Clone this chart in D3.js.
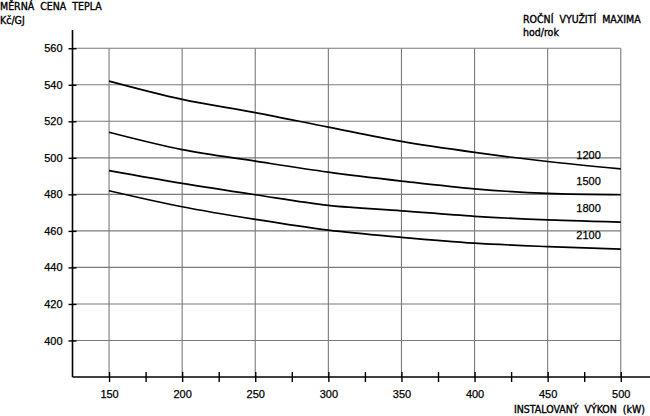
<!DOCTYPE html>
<html>
<head>
<meta charset="utf-8">
<script src="https://cdn.jsdelivr.net/npm/d3@7"></script>
<style>
  body { margin: 0; background: #fff; }
  text { font-family: "Liberation Sans", Arial, sans-serif; fill: #000; stroke: #000; stroke-width: 0.25px; }
  .cad { font-family: "Liberation Sans Narrow", "DejaVu Sans Condensed", sans-serif; font-size: 10.5px; word-spacing: 3px; stroke-width: 0.35px; }
</style>
</head>
<body>
<div id="chart"></div>
<script>
// instalovany vykon (kW)
const vykon = [150, 200, 250, 300, 350, 400, 450, 500];
// rocni vyuziti maxima (hod/rok)
const vyuziti = ["1200", "1500", "1800", "2100"];
// merna cena tepla (Kc/GJ) pro kazdou krivku
const cena1200 = [542, 532, 524.8, 516.8, 509, 503, 498, 494];
const cena1500 = [514, 504.5, 498.2, 492.2, 487.3, 483, 480.5, 479.8];
const cena1800 = [493, 486, 479.8, 474, 471, 468, 466, 464.8];
const cena2100 = [482, 473.2, 466.3, 460.4, 456.5, 453.3, 451.4, 450];
const xTicks = [150, 200, 250, 300, 350, 400, 450, 500];
const xMinor = [175, 225, 275, 325, 375, 425, 475];
const yTicks = [400, 420, 440, 460, 480, 500, 520, 540, 560];

const series = [cena1200, cena1500, cena1800, cena2100];

const svg = d3.select("#chart").append("svg")
  .attr("width", 650).attr("height", 416);

const x = d3.scaleLinear().domain([125, 520]).range([72.5, 650]);
const y = d3.scaleLinear().domain([380, 570]).range([377, 30]);

// mrizka
svg.append("g").selectAll("line").data(xTicks).enter().append("line")
  .attr("x1", d => x(d)).attr("x2", d => x(d))
  .attr("y1", y(380)).attr("y2", y(560))
  .attr("stroke", "#7a7a7a").attr("stroke-width", 1.1);

svg.append("g").selectAll("line").data(yTicks).enter().append("line")
  .attr("x1", x(125)).attr("x2", x(500))
  .attr("y1", d => y(d)).attr("y2", d => y(d))
  .attr("stroke", "#7a7a7a").attr("stroke-width", 1.1);

// osy
const yAxis = svg.append("g")
  .attr("transform", `translate(${x(125)},0)`)
  .call(d3.axisLeft(y).tickValues(yTicks).tickSize(4).tickPadding(6));
yAxis.select(".domain").remove();
yAxis.selectAll(".tick line").attr("x1", -4).attr("x2", 4).attr("stroke-width", 1.4);
yAxis.selectAll(".tick text").attr("font-size", 11).attr("font-family", "Liberation Sans");
yAxis.append("line")
  .attr("x1", 0).attr("x2", 0).attr("y1", y(380)).attr("y2", y(570))
  .attr("stroke", "#000").attr("stroke-width", 1.6);

const xAxis = svg.append("g")
  .attr("transform", `translate(0,${y(380)})`)
  .call(d3.axisBottom(x).tickValues(xTicks.concat(xMinor)).tickSize(5).tickPadding(8)
    .tickFormat(d => xTicks.includes(d) ? d : ""));
xAxis.select(".domain").remove();
xAxis.selectAll(".tick line").attr("y1", -5).attr("y2", 5).attr("stroke-width", 1.4);
xAxis.selectAll(".tick text").attr("font-size", 11).attr("font-family", "Liberation Sans");
xAxis.append("line")
  .attr("x1", x(125)).attr("x2", x(520)).attr("y1", 0).attr("y2", 0)
  .attr("stroke", "#000").attr("stroke-width", 1.6);

// krivky
const line = d3.line()
  .x((d, i) => x(vykon[i]))
  .y(d => y(d))
  .curve(d3.curveCatmullRom.alpha(0.5));

svg.append("g").selectAll("path").data(series).enter().append("path")
  .attr("d", line)
  .attr("fill", "none")
  .attr("stroke", "#000")
  .attr("stroke-width", 1.7);

svg.append("g").selectAll("text").data(series).enter().append("text")
  .attr("x", x(478))
  .attr("y", d => y(d[d.length - 1]) - 10)
  .attr("text-anchor", "middle")
  .attr("font-size", 11)
  .text((d, i) => vyuziti[i]);

// popisky
svg.append("text").attr("class", "cad").attr("x", 0).attr("y", 10).text("MĚRNÁ CENA TEPLA");
svg.append("text").attr("class", "cad").attr("x", 0).attr("y", 24).text("Kč/GJ");
svg.append("text").attr("class", "cad").attr("x", 523).attr("y", 23).text("ROČNÍ VYUŽITÍ MAXIMA");
svg.append("text").attr("class", "cad").attr("x", 523).attr("y", 36).text("hod/rok");
svg.append("text").attr("class", "cad").attr("x", 645).attr("y", 413)
  .attr("text-anchor", "end").text("INSTALOVANÝ VÝKON (kW)");
</script>
</body>
</html>
